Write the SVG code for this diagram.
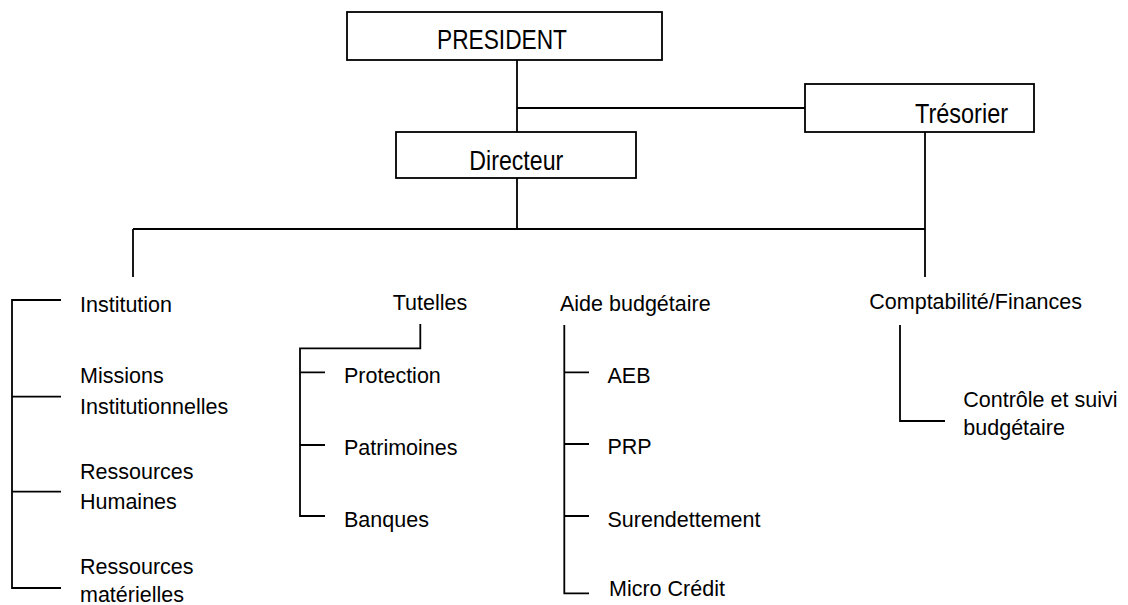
<svg xmlns="http://www.w3.org/2000/svg" width="1128" height="605" viewBox="0 0 1128 605">
<style>
.box{fill:#fff;stroke:#000;stroke-width:1.8}
.ln{fill:none;stroke:#000;stroke-width:1.8}
.bt{font-family:"Liberation Sans",Arial,sans-serif;font-size:28px;fill:#000}
.t{font-family:"Liberation Sans",Arial,sans-serif;font-size:21.5px;fill:#000}
</style>
<rect width="1128" height="605" fill="#fff"/>
<g id="connectors">
<path class="ln" d="M517 60V132M517 108H805M517 178V229M925 132V277M133 229H925M133 229V277"/>
<path class="ln" d="M61 300H12V588H61M12 396.7H61M12 491.7H61"/>
<path class="ln" d="M420.3 324V348.3H300V516H325M300 372.3H325M300 445H325"/>
<path class="ln" d="M564.3 325V593.3H589M564.3 372.3H589M564.3 444H589M564.3 516H589"/>
<path class="ln" d="M900 325V421H945"/>
</g>
<g id="president"><rect class="box" x="347" y="12" width="315" height="48"/><text class="bt" x="437" y="49.3" textLength="130" lengthAdjust="spacingAndGlyphs">PRESIDENT</text></g>
<g id="directeur"><rect class="box" x="396" y="132" width="240" height="46"/><text class="bt" x="469.3" y="170" textLength="94" lengthAdjust="spacingAndGlyphs">Directeur</text></g>
<g id="tresorier"><rect class="box" x="805" y="84" width="229" height="48"/><text class="bt" x="915" y="122.7" textLength="93" lengthAdjust="spacingAndGlyphs">Trésorier</text></g>
<g id="institution"><text class="t" x="80" y="311.7">Institution</text></g>
<g id="missions"><text class="t" x="80" y="383.3">Missions</text><text class="t" x="80" y="413.5">Institutionnelles</text></g>
<g id="rh"><text class="t" x="80" y="479">Ressources</text><text class="t" x="80" y="509">Humaines</text></g>
<g id="rm"><text class="t" x="80" y="574">Ressources</text><text class="t" x="80" y="602">matérielles</text></g>
<g id="tutelles"><text class="t" x="392.7" y="310">Tutelles</text></g>
<g id="protection"><text class="t" x="344" y="382.7">Protection</text></g>
<g id="patrimoines"><text class="t" x="344" y="455">Patrimoines</text></g>
<g id="banques"><text class="t" x="344" y="526.7">Banques</text></g>
<g id="aide"><text class="t" x="560" y="310.7">Aide budgétaire</text></g>
<g id="aeb"><text class="t" x="607.5" y="383.3">AEB</text></g>
<g id="prp"><text class="t" x="607.5" y="454.3">PRP</text></g>
<g id="surendettement"><text class="t" x="607.5" y="526.7">Surendettement</text></g>
<g id="microcredit"><text class="t" x="609" y="596">Micro Crédit</text></g>
<g id="comptabilite"><text class="t" x="869.3" y="309.3">Comptabilité/Finances</text></g>
<g id="controle"><text class="t" x="963.3" y="406.7">Contrôle et suivi</text><text class="t" x="963.3" y="435">budgétaire</text></g>
</svg>
